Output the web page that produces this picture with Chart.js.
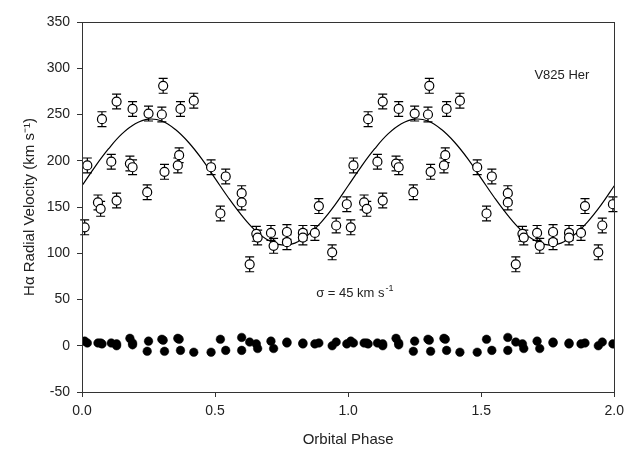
<!DOCTYPE html>
<html>
<head>
<meta charset="utf-8">
<title>V825 Her radial velocity</title>
<script src="https://cdn.jsdelivr.net/npm/chart.js@4.4.0/dist/chart.umd.min.js"></script>
<style>
  html, body { margin: 0; padding: 0; background: #fff; }
  #wrap { width: 630px; height: 456px; }
</style>
</head>
<body>
<div id="wrap"><canvas id="rvChart" width="630" height="456"></canvas></div>
<script>
// H-alpha velocities folded on the orbital period, plotted over two cycles
const phase = [
  0.01, 0.02, 0.06, 0.07, 0.075, 0.11, 0.13, 0.13, 0.18, 0.19, 0.19, 0.245, 0.25,
  0.30, 0.305, 0.31, 0.36, 0.365, 0.37, 0.42, 0.485, 0.52, 0.54, 0.60, 0.60, 0.63,
  0.655, 0.66, 0.71, 0.72, 0.77, 0.77, 0.83, 0.83, 0.875, 0.89, 0.94, 0.955, 0.995,
  1.01, 1.02, 1.06, 1.07, 1.075, 1.11, 1.13, 1.13, 1.18, 1.19, 1.19, 1.245, 1.25,
  1.30, 1.305, 1.31, 1.36, 1.365, 1.37, 1.42, 1.485, 1.52, 1.54, 1.60, 1.60, 1.63,
  1.655, 1.66, 1.71, 1.72, 1.77, 1.77, 1.83, 1.83, 1.875, 1.89, 1.94, 1.955, 1.995
];
const velocity = [
  128, 195, 155, 148, 245, 199, 157, 264, 197, 193, 256, 166, 251,
  250, 281, 188, 195, 206, 256, 265, 193, 143, 183, 165, 155, 88,
  121, 117, 122, 108, 123, 112, 122, 117, 122, 151, 101, 130, 153,
  128, 195, 155, 148, 245, 199, 157, 264, 197, 193, 256, 166, 251,
  250, 281, 188, 195, 206, 256, 265, 193, 143, 183, 165, 155, 88,
  121, 117, 122, 108, 123, 112, 122, 117, 122, 151, 101, 130, 153
];
const velErr = [
  8, 8, 8, 8, 8, 8, 8, 8, 8, 8, 8, 8, 8,
  8, 8, 8, 8, 8, 8, 8, 8, 8, 8, 8, 8, 8,
  8, 8, 8, 8, 8, 8, 8, 8, 8, 8, 8, 8, 8,
  8, 8, 8, 8, 8, 8, 8, 8, 8, 8, 8, 8, 8,
  8, 8, 8, 8, 8, 8, 8, 8, 8, 8, 8, 8, 8,
  8, 8, 8, 8, 8, 8, 8, 8, 8, 8, 8, 8, 8
];
const residual = [
  5, 3, 3, 3, 2, 3, 0, 2, 8, 3, 1, -6, 5,
  7, 6, -6, 8, 7, -5, -7, -7, 7, -5, 9, -5, 4,
  2, -3, 5, -3, 3, 4, 2, 3, 2, 3, 0, 4, 2,
  5, 3, 3, 3, 2, 3, 0, 2, 8, 3, 1, -6, 5,
  7, 6, -6, 8, 7, -5, -7, -7, 7, -5, 9, -5, 4,
  2, -3, 5, -3, 3, 4, 2, 3, 2, 3, 0, 4, 2
];

// fitted orbit
const curvePhase = [
  0, 0.05, 0.1, 0.15, 0.2, 0.25, 0.3, 0.35, 0.4, 0.45, 0.5, 0.55, 0.6, 0.65, 0.7,
  0.75, 0.8, 0.85, 0.9, 0.95, 1, 1.05, 1.1, 1.15, 1.2, 1.25, 1.3, 1.35, 1.4, 1.45,
  1.5, 1.55, 1.6, 1.65, 1.7, 1.75, 1.8, 1.85, 1.9, 1.95, 2
];
const curveVel = [
  173, 194, 213, 229, 240, 245, 243, 234, 220, 202, 181, 160, 141, 125, 114,
  109, 111, 120, 134, 152, 173, 194, 213, 229, 240, 245, 243, 234, 220, 202,
  181, 160, 141, 125, 114, 109, 111, 120, 134, 152, 173
];

const xTicks = [0, 0.5, 1, 1.5, 2];
const yTicks = [-50, 0, 50, 100, 150, 200, 250, 300, 350];

const FONT = "'Liberation Sans', Arial, Helvetica, sans-serif";
const INK = '#222';

const toXY = (xs, ys) => xs.map((x, i) => ({ x: x, y: ys[i] }));

// vertical error bars with caps, under the circles
const errorBars = {
  id: 'errorBars',
  beforeDatasetsDraw(chart) {
    const ctx = chart.ctx, xs = chart.scales.x, ys = chart.scales.y;
    ctx.save();
    ctx.strokeStyle = '#000';
    ctx.lineWidth = 1.2;
    for (let i = 0; i < phase.length; i++) {
      const px = xs.getPixelForValue(phase[i]);
      const top = ys.getPixelForValue(velocity[i] + velErr[i]);
      const bot = ys.getPixelForValue(velocity[i] - velErr[i]);
      ctx.beginPath();
      ctx.moveTo(px, top); ctx.lineTo(px, bot);
      ctx.moveTo(px - 4.5, top); ctx.lineTo(px + 4.5, top);
      ctx.moveTo(px - 4.5, bot); ctx.lineTo(px + 4.5, bot);
      ctx.stroke();
    }
    ctx.restore();
  }
};

// box round the plot area
const frame = {
  id: 'frame',
  afterDatasetsDraw(chart) {
    const { left, top, right, bottom } = chart.chartArea;
    const ctx = chart.ctx;
    ctx.save();
    ctx.strokeStyle = '#333';
    ctx.lineWidth = 1;
    ctx.strokeRect(Math.round(left) + 0.5, Math.round(top) + 0.5,
      Math.round(right - left), Math.round(bottom - top));
    ctx.restore();
  }
};

const labels = {
  id: 'labels',
  afterDraw(chart) {
    const ctx = chart.ctx, xs = chart.scales.x, ys = chart.scales.y;
    ctx.save();
    ctx.fillStyle = INK;
    ctx.textBaseline = 'middle';
    ctx.font = '13px ' + FONT;
    ctx.fillText('V825 Her', xs.getPixelForValue(1.70), ys.getPixelForValue(292));

    // sigma with a raised -1
    let x = xs.getPixelForValue(0.88);
    const y = ys.getPixelForValue(57);
    const main = '\u03c3 = 45 km s';
    ctx.fillText(main, x, y);
    x += ctx.measureText(main).width + 1;
    ctx.font = '9px ' + FONT;
    ctx.fillText('-1', x, y - 5);
    ctx.restore();
  }
};

new Chart(document.getElementById('rvChart'), {
  type: 'scatter',
  data: {
    datasets: [
      {
        label: 'observed',
        data: toXY(phase, velocity),
        pointStyle: 'circle',
        pointRadius: 4.5,
        pointBackgroundColor: '#fff',
        pointBorderColor: '#000',
        pointBorderWidth: 1.2,
        order: 1
      },
      {
        label: 'residual',
        data: toXY(phase, residual),
        pointRadius: 4.3,
        pointBackgroundColor: '#000',
        pointBorderColor: '#000',
        pointBorderWidth: 0.5,
        order: 2
      },
      {
        type: 'line',
        label: 'fit',
        data: toXY(curvePhase, curveVel),
        borderColor: '#000',
        borderWidth: 1.2,
        pointRadius: 0,
        tension: 0.4,
        fill: false,
        order: 3
      }
    ]
  },
  options: {
    responsive: false,
    animation: false,
    events: [],
    layout: { padding: { top: 22, right: 12, left: 0, bottom: 0 } },
    plugins: {
      legend: { display: false },
      tooltip: { enabled: false }
    },
    scales: {
      x: {
        type: 'linear',
        position: 'bottom',
        min: 0,
        max: 2,
        afterBuildTicks: (s) => { s.ticks = xTicks.map(v => ({ value: v })); },
        afterFit: (s) => { s.height = 64; },
        ticks: {
          callback: (v) => Number(v).toFixed(1),
          font: { family: FONT, size: 14 },
          color: INK,
          padding: 6,
          maxRotation: 0
        },
        grid: { drawOnChartArea: false, tickLength: 5, color: '#333' },
        border: { color: '#333' },
        title: {
          display: true,
          text: 'Orbital Phase',
          font: { family: FONT, size: 15 },
          color: INK,
          padding: { top: 0, bottom: 7 }
        }
      },
      y: {
        type: 'linear',
        min: -50,
        max: 350,
        afterBuildTicks: (s) => { s.ticks = yTicks.map(v => ({ value: v })); },
        afterFit: (s) => { s.width = 82; },
        ticks: {
          font: { family: FONT, size: 14 },
          color: INK,
          padding: 7
        },
        grid: { drawOnChartArea: false, tickLength: 5, color: '#333' },
        border: { color: '#333' },
        title: {
          display: true,
          text: 'H\u03b1 Radial Velocity (km s\u207b\u00b9)',
          font: { family: FONT, size: 15 },
          color: INK,
          padding: { top: 21, bottom: 0 }
        }
      }
    }
  },
  plugins: [errorBars, frame, labels]
});
</script>
</body>
</html>
